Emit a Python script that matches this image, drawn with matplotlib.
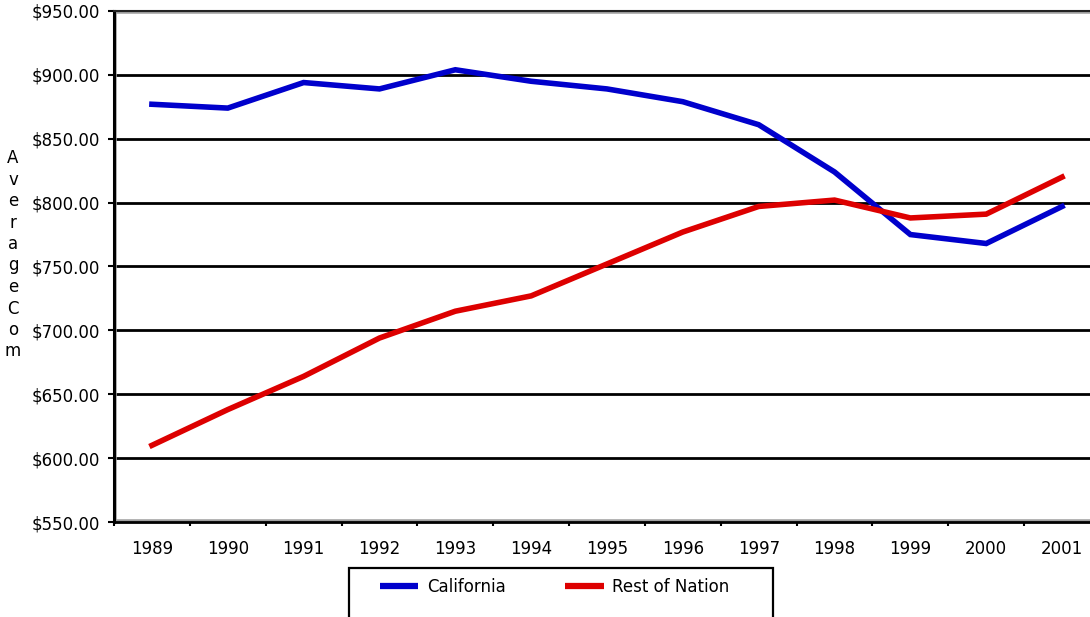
from matplotlib import pyplot as plt
from matplotlib.patches import Rectangle
from matplotlib.lines import Line2D
from matplotlib.ticker import FixedLocator, FuncFormatter

years = ['1989', '1990', '1991', '1992', '1993', '1994', '1995',
         '1996', '1997', '1998', '1999', '2000', '2001']
california = [877, 874, 894, 889, 904, 895, 889, 879, 861, 824, 775, 768, 797]
rest_of_nation = [610, 638, 664, 694, 715, 727, 752, 777, 797, 802, 788, 791, 820]
y_ticks = [550, 600, 650, 700, 750, 800, 850, 900, 950]
axis_title = 'AverageCom'

blue = '#0000cc'
red = '#dd0000'

W, H = 1090, 617
fig = plt.figure(figsize=(W / 100, H / 100), dpi=100)
plt.rcParams['font.family'] = ['DejaVu Sans']

# plot area runs a bit past the right edge of the figure
ax = fig.add_axes([114 / W, 1 - 522 / H, 986 / W, 511 / H])
x = list(range(len(years)))

ax.plot(x, california, color=blue, lw=4, zorder=3, solid_joinstyle='miter')
ax.plot(x, rest_of_nation, color=red, lw=4, zorder=4, solid_joinstyle='miter')

ax.set_xlim(-0.5, len(years) - 0.5)
ax.set_ylim(y_ticks[0], y_ticks[-1])

ax.set_yticks(y_ticks)
ax.yaxis.set_major_formatter(FuncFormatter(lambda v, p: '$%.2f' % v))
ax.yaxis.grid(True, color='black', lw=2, zorder=1)
ax.tick_params(axis='y', direction='out', length=4, width=1.5, pad=6,
               labelsize=12, color='black')

ax.set_xticks(x)
ax.set_xticklabels(years)
ax.xaxis.set_minor_locator(FixedLocator([i - 0.5 for i in range(len(years) + 1)]))
ax.tick_params(axis='x', which='major', length=0, pad=13, labelsize=12)
ax.tick_params(axis='x', which='minor', direction='out', length=3, width=1.5,
               color='black')

for side in ['left', 'bottom', 'top', 'right']:
    ax.spines[side].set_color('black')
ax.spines['left'].set_linewidth(2.2)
ax.spines['bottom'].set_linewidth(2)
ax.spines['top'].set_linewidth(1.5)
ax.spines['top'].set_color('#222222')

# grey inner shadow around the plot area
ax.add_patch(Rectangle((0, 0), 1, 1, transform=ax.transAxes, fill=False,
                       edgecolor='#a0a0a0', lw=4, zorder=2))

# axis title written one letter per line
for i, ch in enumerate(axis_title):
    fig.text(13 / W, 1 - (158 + i * 21.5) / H, ch, fontsize=12,
             ha='center', va='center')

# legend box
fig.patches.append(Rectangle((349 / W, -0.05), (773 - 349) / W,
                             (617 - 568) / H + 0.05, transform=fig.transFigure,
                             fill=False, edgecolor='black', lw=1.6))
handles = [Line2D([], [], color=blue, lw=4.5, solid_capstyle='butt'),
           Line2D([], [], color=red, lw=4.5, solid_capstyle='butt')]
fig.legend(handles, ['California', 'Rest of Nation'], loc='upper left',
           bbox_to_anchor=(380 / W, 1 - 578 / H), ncol=2, frameon=False,
           fontsize=12, handlelength=2.3, handletextpad=0.5,
           columnspacing=3.6, borderpad=0, borderaxespad=0)

plt.savefig('out.png', dpi=100)
